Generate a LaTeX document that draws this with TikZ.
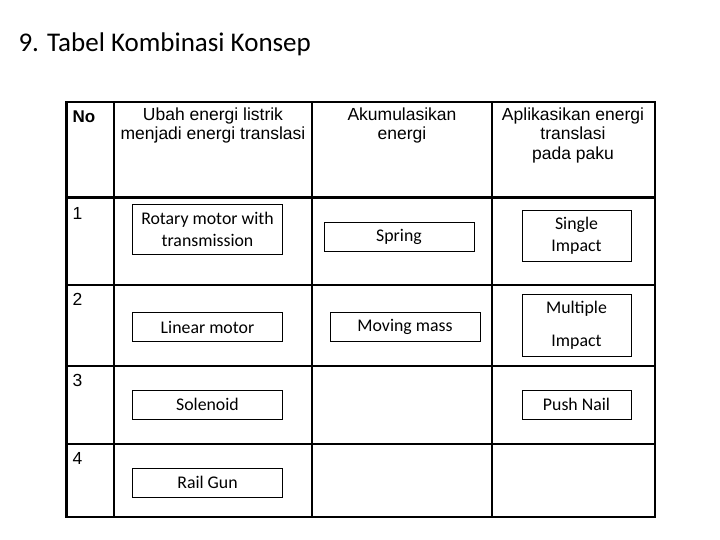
\documentclass[tikz,border=0pt]{standalone}
\usepackage{fontspec}
\setmainfont{Carlito}
\newfontfamily\arial{Liberation Sans}
\begin{document}
\begin{tikzpicture}[x=1pt,y=-1pt,
  tbl/.style={line width=2.3pt},
  cbox/.style={draw,line width=0.9pt,inner sep=0pt,font=\fontsize{17.8}{22}\selectfont,align=center},
  hdr/.style={font=\arial\fontsize{17.5}{19.5}\selectfont,align=center,anchor=north},
  num/.style={font=\arial\fontsize{17.5}{20}\selectfont,anchor=west}]
\useasboundingbox (0,0) rectangle (720,540);
\node[anchor=west,font=\fontsize{27}{30}\selectfont] (title) at (15,44) {9. Tabel Kombinasi Konsep};
% table
\draw[tbl] (66.5,102) rectangle (655,517);
\foreach \x in {114,312,492} \draw[tbl] (\x,102) -- (\x,517);
\draw[tbl] (66.5,197.5) -- (655,197.5);
\foreach \y in {285,366,444} \draw[tbl] (66.5,\y) -- (655,\y);
% headers
\node[num,font=\arial\bfseries\fontsize{17}{20}\selectfont] (hno) at (69,117) {No};
\node[hdr] (h1) at (213,104) {Ubah energi listrik\\menjadi energi translasi};
\node[hdr] (h2) at (402,104) {Akumulasikan\\energi};
\node[hdr] (h3) at (573,104) {Aplikasikan energi\\translasi\\pada paku};
\node[num] (n1) at (69,213) {1};
\node[num] (n2) at (69,299) {2};
\node[num] (n3) at (69,380) {3};
\node[num] (n4) at (69,458) {4};
% boxes
\node[cbox,minimum width=150pt,minimum height=50pt] (rot) at (207.5,229.3) {Rotary motor with\\transmission};
\node[cbox,minimum width=150pt,minimum height=29.5pt] (lin) at (207.5,327) {Linear motor};
\node[cbox,minimum width=150pt,minimum height=29pt] (sol) at (207.5,404.5) {Solenoid};
\node[cbox,minimum width=150pt,minimum height=29pt] (rail) at (207.5,482.5) {Rail Gun};
\node[cbox,minimum width=150pt,minimum height=29pt] (spr) at (399,236.5) {Spring};
\node[cbox,minimum width=150pt,minimum height=29.5pt] (mov) at (405,327) {Moving mass};
\node[cbox,minimum width=109pt,minimum height=51pt] (sing) at (576.5,235.5) {Single\\Impact};
\node[cbox,minimum width=109pt,minimum height=62pt,font=\fontsize{17.8}{33}\selectfont] (mult) at (576.5,325) {Multiple\\Impact};
\node[cbox,minimum width=109pt,minimum height=29pt] (push) at (576.5,404.5) {Push Nail};
\end{tikzpicture}
\end{document}
